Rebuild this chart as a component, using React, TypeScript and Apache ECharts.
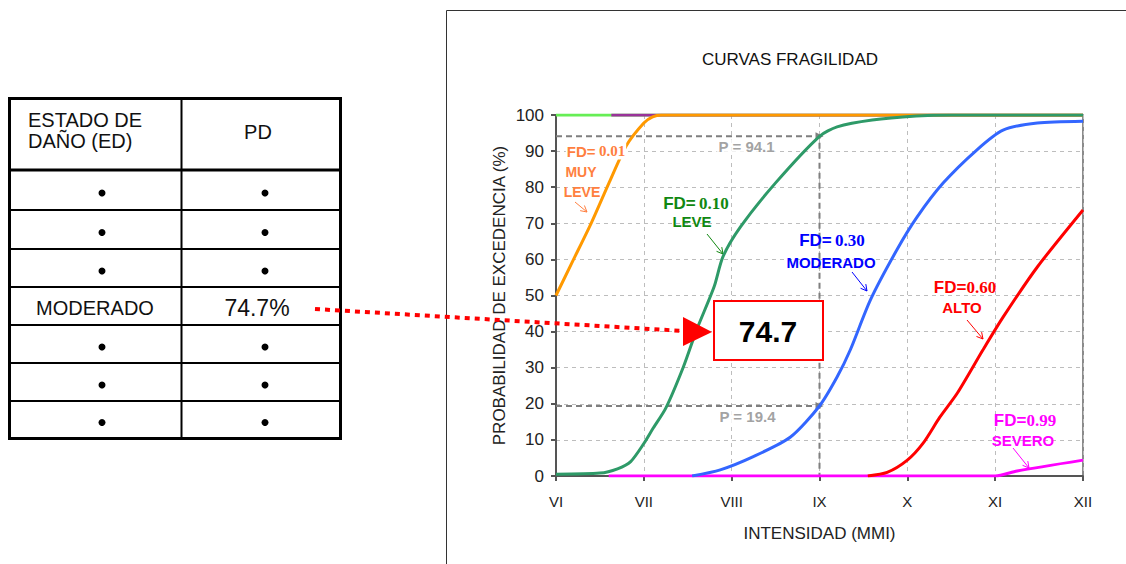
import React, { useEffect, useRef } from "react";
import * as echarts from "echarts";

// ---- data ----
const mmiLabels = ["VI", "VII", "VIII", "IX", "X", "XI", "XII"];
const yTicks = [0, 10, 20, 30, 40, 50, 60, 70, 80, 90, 100];

const muyLeveX = [6, 6.2, 6.4, 6.6, 6.8, 7.0, 7.1, 7.2, 8, 9, 10, 11, 12];
const muyLeveY = [50, 60, 70, 81, 91.5, 97.8, 99.5, 100, 100, 100, 100, 100, 100];

const leveX = [6, 6.5, 6.7, 6.85, 7.0, 7.1, 7.25, 7.45, 7.6, 7.8, 7.9, 8.1, 8.5, 9.0, 9.2, 9.6, 10.1, 10.5, 12];
const leveY = [0.5, 0.8, 2, 4, 9, 13, 18.8, 30.2, 40.4, 52.4, 60.7, 69, 81.2, 94.1, 96.7, 98.6, 99.7, 100, 100];

const moderadoX = [7.55, 7.87, 8.24, 8.67, 9.0, 9.2, 9.35, 9.58, 9.88, 10.11, 10.41, 10.79, 11.09, 11.48, 12];
const moderadoY = [0, 1.7, 5.3, 10.8, 19.4, 27.4, 34.9, 48.8, 62.6, 71.7, 81.2, 90.3, 95.8, 97.8, 98.3];

const altoX = [9.55, 9.77, 10.0, 10.18, 10.37, 10.57, 10.86, 11.09, 11.48, 12];
const altoY = [0, 1, 4.4, 9.1, 16.3, 23, 34.9, 44, 57.9, 73.7];

const severoX = [6.6, 11.0, 11.25, 12];
const severoY = [0, 0, 1.4, 4.4];

const topGreenX = [6, 12];
const topGreenY = [100, 100];
const topPurpleX = [6.63, 12];
const topPurpleY = [100, 100];

const refIntensity = 9; // IX
const refLevels = [94.1, 19.4];
const refLabelX = [8.17, 8.18];

const tableHeader = ["ESTADO DE\nDAÑO (ED)", "PD"];
const tableRows = [
  ["•", "•"],
  ["•", "•"],
  ["•", "•"],
  ["MODERADO", "74.7%"],
  ["•", "•"],
  ["•", "•"],
  ["•", "•"],
];
const highlightValue = "74.7";

const pairs = (xs: number[], ys: number[]) => xs.map((x, i) => [x, ys[i]]);

const SANS = "Liberation Sans, Arial, sans-serif";
const SERIF = "Liberation Serif, Times New Roman, serif";

function txt(x: number, y: number, text: string, font: string, fill: string, align = "center", z = 120) {
  return {
    type: "text",
    x,
    y,
    z,
    style: { text, font, fill, align, verticalAlign: "middle", textAlign: align, textVerticalAlign: "middle" },
  };
}

function arrow(x1: number, y1: number, x2: number, y2: number, color: string) {
  const ang = Math.atan2(y2 - y1, x2 - x1);
  const L = 7;
  const a1 = ang + Math.PI - 0.5;
  const a2 = ang + Math.PI + 0.5;
  return {
    type: "group",
    z: 100,
    children: [
      { type: "line", shape: { x1, y1, x2, y2 }, style: { stroke: color, lineWidth: 1 } },
      {
        type: "polyline",
        shape: {
          points: [
            [x2 + L * Math.cos(a1), y2 + L * Math.sin(a1)],
            [x2, y2],
            [x2 + L * Math.cos(a2), y2 + L * Math.sin(a2)],
          ],
        },
        style: { stroke: color, lineWidth: 1, fill: null },
      },
    ],
  };
}

function fdLabel(x: number, y: number, num: string, color: string, size: number, sep = " ", bg = false) {
  return {
    type: "text",
    x,
    y,
    z: 120,
    style: {
      text: `{a|FD=}${sep}{b|${num}}`,
      align: "center",
      verticalAlign: "middle",
      textAlign: "center",
      textVerticalAlign: "middle",
      fill: color,
      backgroundColor: bg ? "#fff" : undefined,
      padding: bg ? [1, 1] : 0,
      rich: {
        a: { fontFamily: SANS, fontWeight: "bold", fontSize: size, fill: color, color },
        b: { fontFamily: SERIF, fontWeight: "bold", fontSize: size, fill: color, color },
      },
    },
  };
}

function buildTable() {
  const els: any[] = [];
  const left = 9.5, right = 340.5, top = 98.5, bottom = 438.5, mid = 181.5;
  const rowLines = [170, 210, 249, 287, 325, 363, 401];
  els.push({ type: "rect", z: 100, shape: { x: left, y: top, width: right - left, height: bottom - top }, style: { fill: "#fff", stroke: "#000", lineWidth: 3 } });
  els.push({ type: "line", z: 101, shape: { x1: mid, y1: top, x2: mid, y2: bottom }, style: { stroke: "#000", lineWidth: 2 } });
  rowLines.forEach((y, i) => {
    els.push({ type: "line", z: 101, shape: { x1: left, y1: y, x2: right, y2: y }, style: { stroke: "#000", lineWidth: i === 0 ? 3 : 2 } });
  });
  const hdr = tableHeader[0].split("\n");
  els.push(txt(28, 120, hdr[0], `20px ${SANS}`, "#111", "left"));
  els.push(txt(28, 141, hdr[1], `20px ${SANS}`, "#111", "left"));
  els.push(txt(258, 132, tableHeader[1], `20px ${SANS}`, "#111"));
  const bounds = [170, ...rowLines.slice(1), 438];
  tableRows.forEach((row, i) => {
    const cy = (bounds[i] + bounds[i + 1]) / 2 + 2;
    row.forEach((cell, j) => {
      if (cell === "•") {
        els.push({ type: "circle", z: 102, shape: { cx: j === 0 ? 102 : 265, cy: cy + 1, r: 3.5 }, style: { fill: "#000" } });
      } else {
        els.push(txt(j === 0 ? 95 : 257, cy, cell, j === 0 ? `20px ${SANS}` : `23px ${SANS}`, "#111"));
      }
    });
  });
  return els;
}

export default function App() {
  const ref = useRef<HTMLDivElement>(null);
  useEffect(() => {
    if (!ref.current) return;
    const chart = echarts.init(ref.current, null, { renderer: "svg" });
    const lineSeries = (name: string, xs: number[], ys: number[], color: string, width = 3) => ({
      name,
      type: "line",
      data: pairs(xs, ys),
      smooth: 0.25,
      showSymbol: false,
      symbol: "none",
      lineStyle: { color, width },
      itemStyle: { color },
      z: 3,
    });
    const refLine = (data: any[]) => ({
      type: "line",
      data,
      showSymbol: true,
      symbol: "none",
      lineStyle: { color: "#7f7f7f", width: 2, type: [6, 4] },
      itemStyle: { color: "#7f7f7f" },
      z: 2,
    });
    const tri = (v: number) => ({ value: [refIntensity, v], symbol: "triangle", symbolSize: 8, symbolRotate: -90 });

    const option: any = {
      animation: false,
      backgroundColor: "#fff",
      grid: {
        left: 556,
        top: 115,
        width: 527,
        height: 361,
        show: true,
        borderColor: "#666",
        borderWidth: 1.5,
        outerBoundsMode: "none",
        containLabel: false,
      },
      xAxis: {
        type: "value",
        min: 6,
        max: 12,
        interval: 1,
        name: "INTENSIDAD (MMI)",
        nameLocation: "middle",
        nameGap: 49,
        nameTextStyle: { fontFamily: SANS, fontSize: 17, color: "#222" },
        axisLine: { show: true, lineStyle: { color: "#555", width: 2 } },
        axisTick: { show: true, length: 5, lineStyle: { color: "#555", width: 2 } },
        axisLabel: {
          formatter: (v: number) => mmiLabels[Math.round(v) - 6],
          fontFamily: SANS,
          fontSize: 15,
          color: "#222",
          margin: 18,
        },
        splitLine: { show: true, lineStyle: { color: "#bdbdbd", type: [4, 4], width: 1 } },
      },
      yAxis: {
        type: "value",
        min: 0,
        max: 100,
        interval: 10,
        name: "PROBABILIDAD DE EXCEDENCIA (%)",
        nameLocation: "middle",
        nameRotate: 90,
        nameGap: 48,
        nameTextStyle: { fontFamily: SANS, fontSize: 17, color: "#222" },
        axisLine: { show: true, lineStyle: { color: "#555", width: 2 } },
        axisTick: { show: true, length: 5, lineStyle: { color: "#555", width: 2 } },
        axisLabel: {
          formatter: (v: number) => (yTicks.includes(v) ? String(v) : ""),
          fontFamily: SANS,
          fontSize: 17,
          color: "#222",
          margin: 12,
        },
        splitLine: { show: true, lineStyle: { color: "#bdbdbd", type: [4, 4], width: 1 } },
      },
      series: [
        refLine([[6, refLevels[0]], tri(refLevels[0]), [refIntensity, 0]]),
        refLine([[6, refLevels[1]], tri(refLevels[1])]),
        {
          type: "scatter",
          data: refLevels.map((v, i) => [refLabelX[i], v]),
          symbolSize: 0,
          z: 4,
          label: {
            show: true,
            position: "bottom",
            distance: 3,
            formatter: (p: any) => `P = ${p.value[1]}`,
            fontFamily: SANS,
            fontWeight: "bold",
            fontSize: 15,
            color: "#8a8a8a",
            backgroundColor: "#fff",
            padding: [0, 2],
          },
        },
        lineSeries("top", topGreenX, topGreenY, "#66ee55", 3),
        lineSeries("topP", topPurpleX, topPurpleY, "#993399", 3),
        lineSeries("SEVERO", severoX, severoY, "#ff00ff", 3),
        lineSeries("MUY LEVE", muyLeveX, muyLeveY, "#ff9900", 3),
        lineSeries("LEVE", leveX, leveY, "#2e9a68", 3),
        lineSeries("MODERADO", moderadoX, moderadoY, "#3366ff", 3),
        lineSeries("ALTO", altoX, altoY, "#ff0000", 3),
      ],
      graphic: [
        // chart frame
        { type: "rect", z: 0, shape: { x: 446.5, y: 10.5, width: 700, height: 600 }, style: { fill: null, stroke: "#333", lineWidth: 1 } },
        txt(790, 59, "CURVAS FRAGILIDAD", `17px ${SANS}`, "#111"),
        // labels
        fdLabel(596, 151, "0.01", "#ff7f40", 15, " ", true),
        txt(581, 172, "MUY", `bold 14px ${SANS}`, "#ff7f40"),
        txt(582, 192, "LEVE", `bold 14px ${SANS}`, "#ff7f40"),
        arrow(575, 202, 587, 212, "#ff7f40"),
        fdLabel(696, 203, "0.10", "#118811", 17),
        txt(692, 221, "LEVE", `bold 15px ${SANS}`, "#118811"),
        arrow(707, 234, 723, 254, "#118811"),
        fdLabel(832, 240, "0.30", "#0000ff", 17),
        txt(831, 262, "MODERADO", `bold 15px ${SANS}`, "#0000ff"),
        arrow(852, 272, 867, 291, "#0000ff"),
        fdLabel(965, 287, "0.60", "#ff0000", 17, ""),
        txt(962, 307, "ALTO", `bold 15px ${SANS}`, "#ff0000"),
        arrow(967, 320, 983, 339, "#ff0000"),
        fdLabel(1025, 420, "0.99", "#ff00ff", 17, ""),
        txt(1023, 440, "SEVERO", `bold 15px ${SANS}`, "#ff00ff"),
        arrow(1013, 448, 1029, 468, "#ff00ff"),
        // table
        ...buildTable(),
        // dotted arrow
        { type: "line", z: 110, shape: { x1: 315, y1: 309, x2: 684, y2: 331 }, style: { stroke: "#ff0000", lineWidth: 4, lineDash: [5, 5] } },
        { type: "polygon", z: 110, shape: { points: [[683, 317], [683, 346], [712, 332]] }, style: { fill: "#ff0000" } },
        // highlight box
        { type: "rect", z: 110, shape: { x: 714, y: 301, width: 109, height: 59 }, style: { fill: "#fff", stroke: "#ff0000", lineWidth: 2 } },
        txt(768, 331, highlightValue, `bold 30px ${SANS}`, "#000", "center", 130),
      ],
    };
    chart.setOption(option);
    return () => chart.dispose();
  }, []);
  return <div ref={ref} style={{ position: "absolute", left: 0, top: 0, width: 1126, height: 564 }} />;
}
